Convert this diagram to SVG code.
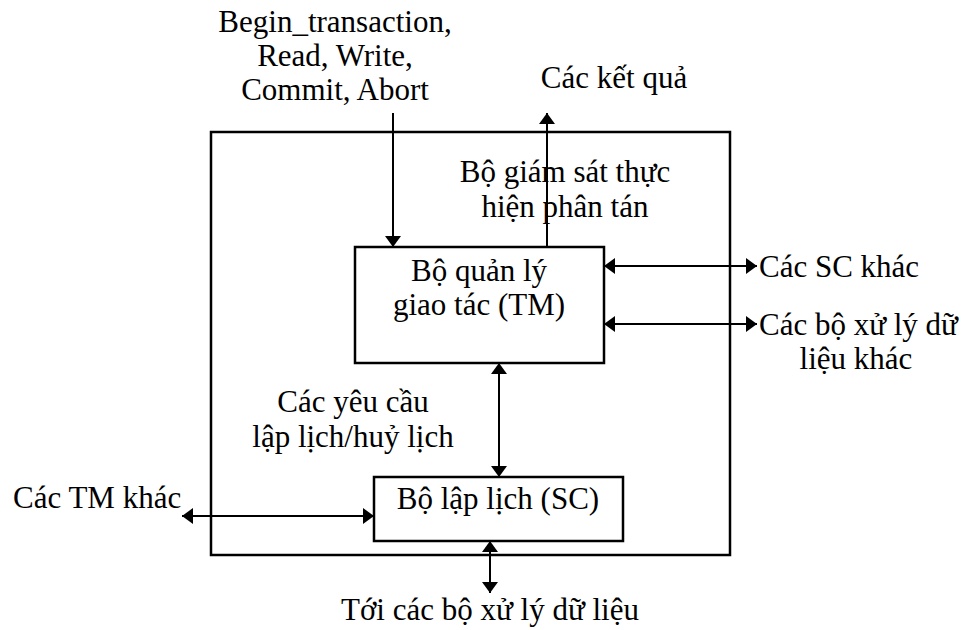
<svg xmlns="http://www.w3.org/2000/svg" width="969" height="630" viewBox="0 0 969 630">
<style>
text{font-family:"Liberation Serif","Times New Roman",serif;font-size:31px;fill:#000}
.box{fill:none;stroke:#000;stroke-width:2.5}
.c{stroke:#000;stroke-width:2;fill:none}
</style>
<defs>
<marker id="ah" markerUnits="userSpaceOnUse" markerWidth="12" markerHeight="18" viewBox="0 -9 12 18" refX="11" refY="0" orient="auto-start-reverse">
<path d="M0,-8 L11,0 L0,8 Z" fill="#000"/>
</marker>
</defs>
<rect width="969" height="630" fill="#fff"/>
<g id="system">
<rect class="box" x="211" y="132" width="519" height="423"/>
</g>
<g id="tm">
<rect class="box" x="355" y="247" width="249" height="116" stroke-width="2"/>
<text x="479" y="281" text-anchor="middle">Bộ quản lý</text>
<text x="479" y="315" text-anchor="middle">giao tác (TM)</text>
</g>
<g id="sc">
<rect class="box" x="374" y="477" width="249" height="64" stroke-width="2"/>
<text x="498" y="509" text-anchor="middle">Bộ lập lịch (SC)</text>
</g>
<g id="labels">
<text x="335" y="32" text-anchor="middle">Begin_transaction,</text>
<text x="335" y="66" text-anchor="middle">Read, Write,</text>
<text x="335" y="100" text-anchor="middle">Commit, Abort</text>
<text x="614" y="88" text-anchor="middle">Các kết quả</text>
<text x="565" y="182" text-anchor="middle">Bộ giám sát thực</text>
<text x="565" y="217" text-anchor="middle">hiện phân tán</text>
<text x="759" y="277">Các SC khác</text>
<text x="759" y="335">Các bộ xử lý dữ</text>
<text x="856" y="369" text-anchor="middle">liệu khác</text>
<text x="353" y="412" text-anchor="middle">Các yêu cầu</text>
<text x="353" y="447" text-anchor="middle">lập lịch/huỷ lịch</text>
<text x="13" y="508">Các TM khác</text>
<text x="490" y="620" text-anchor="middle">Tới các bộ xử lý dữ liệu</text>
</g>
<g id="connectors">
<line class="c" x1="393" y1="113" x2="393" y2="247" marker-end="url(#ah)"/>
<line class="c" x1="547" y1="247" x2="547" y2="113" marker-end="url(#ah)"/>
<line class="c" x1="604" y1="266" x2="757" y2="266" marker-start="url(#ah)" marker-end="url(#ah)"/>
<line class="c" x1="604" y1="324" x2="757" y2="324" marker-start="url(#ah)" marker-end="url(#ah)"/>
<line class="c" x1="499" y1="363" x2="499" y2="477" marker-start="url(#ah)" marker-end="url(#ah)"/>
<line class="c" x1="182" y1="516" x2="374" y2="516" marker-start="url(#ah)" marker-end="url(#ah)"/>
<line class="c" x1="490" y1="541" x2="490" y2="593" marker-start="url(#ah)" marker-end="url(#ah)"/>
</g>
</svg>
